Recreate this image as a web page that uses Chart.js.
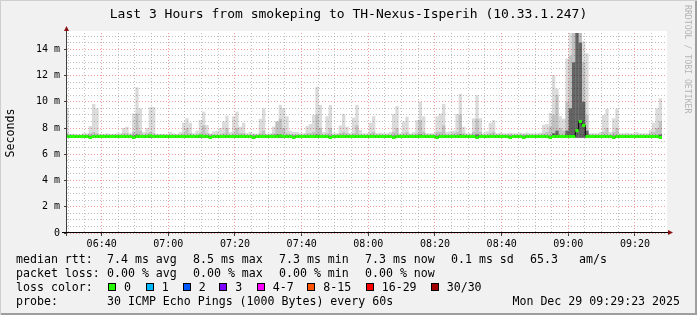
<!DOCTYPE html>
<html>
<head>
<meta charset="utf-8">
<title>smokeping TH-Nexus-Isperih</title>
<script src="https://cdn.jsdelivr.net/npm/chart.js@4.4.1/dist/chart.umd.min.js"></script>
<style>
  body { margin: 0; background: #fff; }
  #graph {
    position: relative; width: 697px; height: 315px; overflow: hidden;
    background: #f1f1f1;
    box-shadow: inset 1px 1px 0 #cfcfcf, inset -2px -2px 0 #9e9e9e;
    font-family: 'DejaVu Sans Mono', monospace; color: #000;
  }
  #graph canvas { position: absolute; left: 0; top: 0; }
  #title { position: absolute; left: 0; top: 6px; width: 697px; text-align: center;
           font-size: 13px; line-height: 15px; white-space: pre; }
  #mark { position: absolute; left: 683px; top: 5px; writing-mode: vertical-rl;
          font-size: 8.2px; color: #b4b4b4; white-space: pre; }
  .txt { position: absolute; white-space: pre; font-size: 11.6px; line-height: 14px; }
  .box { position: absolute; top: 283px; width: 8px; height: 8px;
         box-sizing: border-box; border: 1px solid #000; }
</style>
</head>
<body>
<div id="graph">
  <canvas id="chart" width="697" height="315"></canvas>
  <div id="title">Last 3 Hours from smokeping to TH-Nexus-Isperih (10.33.1.247)</div>
  <div id="mark">RRDTOOL / TOBI OETIKER</div>

  <div class="txt" style="left:16px;top:252px">median rtt:</div>
  <div class="txt" style="left:107px;top:252px">7.4 ms avg</div>
  <div class="txt" style="left:193px;top:252px">8.5 ms max</div>
  <div class="txt" style="left:279px;top:252px">7.3 ms min</div>
  <div class="txt" style="left:365px;top:252px">7.3 ms now</div>
  <div class="txt" style="left:451px;top:252px">0.1 ms sd</div>
  <div class="txt" style="left:530px;top:252px">65.3</div>
  <div class="txt" style="left:579px;top:252px">am/s</div>

  <div class="txt" style="left:16px;top:266px">packet loss:</div>
  <div class="txt" style="left:107px;top:266px">0.00 % avg</div>
  <div class="txt" style="left:193px;top:266px">0.00 % max</div>
  <div class="txt" style="left:279px;top:266px">0.00 % min</div>
  <div class="txt" style="left:365px;top:266px">0.00 % now</div>

  <div class="txt" style="left:16px;top:280px">loss color:</div>
  <div id="lossLegend"></div>

  <div class="txt" style="left:16px;top:294px">probe:</div>
  <div class="txt" style="left:107px;top:294px">30 ICMP Echo Pings (1000 Bytes) every 60s</div>
  <div class="txt" style="right:17px;top:294px">Mon Dec 29 09:29:23 2025</div>
</div>

<script>
// one sample per minute, first one at 06:29:36 (minutes since midnight)
const firstSample = 389.6;
const smokeFloor = 7.25;

// median rtt per minute (ms)
const median = [
  7.35, 7.35, 7.35, 7.35, 7.35, 7.35, 7.35, 7.27, 7.35, 7.35,
  7.35, 7.35, 7.35, 7.35, 7.35, 7.35, 7.35, 7.35, 7.35, 7.35,
  7.27, 7.35, 7.35, 7.35, 7.35, 7.4, 7.35, 7.35, 7.35, 7.35,
  7.35, 7.35, 7.35, 7.35, 7.35, 7.35, 7.35, 7.35, 7.35, 7.35,
  7.4, 7.35, 7.35, 7.27, 7.35, 7.35, 7.35, 7.35, 7.35, 7.35,
  7.35, 7.35, 7.35, 7.35, 7.35, 7.35, 7.27, 7.35, 7.35, 7.35,
  7.35, 7.35, 7.35, 7.35, 7.4, 7.35, 7.35, 7.35, 7.27, 7.35,
  7.35, 7.35, 7.35, 7.35, 7.35, 7.35, 7.35, 7.35, 7.35, 7.27,
  7.35, 7.35, 7.35, 7.35, 7.35, 7.35, 7.35, 7.35, 7.35, 7.35,
  7.35, 7.35, 7.35, 7.35, 7.35, 7.35, 7.35, 7.35, 7.27, 7.35,
  7.35, 7.35, 7.35, 7.35, 7.35, 7.35, 7.35, 7.35, 7.35, 7.35,
  7.35, 7.27, 7.35, 7.35, 7.35, 7.35, 7.35, 7.35, 7.35, 7.35,
  7.35, 7.35, 7.35, 7.27, 7.35, 7.35, 7.35, 7.35, 7.35, 7.35,
  7.35, 7.35, 7.35, 7.27, 7.35, 7.35, 7.35, 7.27, 7.35, 7.35,
  7.35, 7.35, 7.35, 7.35, 7.35, 7.27, 7.35, 7.35, 7.35, 7.35,
  7.35, 7.35, 7.35, 7.8, 8.5, 8.2, 7.35, 7.35, 7.35, 7.35,
  7.35, 7.35, 7.35, 7.35, 7.27, 7.35, 7.35, 7.35, 7.35, 7.35,
  7.35, 7.35, 7.35, 7.35, 7.35, 7.35, 7.35, 7.35, 7.28
];

// highest ping of each minute (light smoke)
const smokeTop = [
  9.5, 7.55, 7.55, 7.5, 7.5, 7.6, 7.6, 8.15, 9.83, 9.5,
  7.55, 7.55, 7.6, 7.55, 7.55, 7.6, 7.6, 8.0, 8.1, 7.6,
  9.1, 11.1, 9.5, 7.7, 8.0, 9.6, 9.6, 7.55, 7.55, 7.55,
  7.55, 7.7, 7.6, 7.55, 7.7, 8.4, 8.75, 8.4, 7.6, 7.8,
  8.6, 9.25, 8.23, 7.6, 7.75, 7.8, 8.0, 8.5, 8.94, 7.7,
  8.9, 9.25, 8.1, 8.4, 7.6, 7.7, 7.6, 7.55, 8.7, 9.5,
  7.55, 7.6, 8.1, 8.5, 9.76, 9.5, 8.9, 7.8, 7.7, 7.7,
  7.6, 7.6, 8.15, 8.3, 9.0, 11.15, 9.76, 7.7, 8.9, 9.76,
  7.6, 7.6, 8.2, 9.07, 8.1, 7.6, 8.8, 9.76, 7.85, 7.6,
  7.6, 8.4, 8.9, 7.6, 7.65, 7.6, 7.6, 7.7, 9.07, 9.68,
  7.6, 8.5, 8.87, 7.6, 7.7, 8.6, 10.0, 8.9, 7.6, 7.6,
  7.6, 8.9, 9.1, 9.83, 7.7, 7.75, 7.8, 9.07, 10.6, 8.1,
  7.6, 7.6, 8.74, 10.5, 8.74, 7.6, 7.75, 8.4, 8.6, 7.6,
  7.65, 7.6, 7.6, 7.65, 7.6, 7.6, 7.65, 7.6, 7.65, 7.6,
  7.6, 7.6, 7.65, 8.25, 8.3, 9.15, 12.04, 11.0, 8.9, 8.7,
  13.3, 15.3, 15.3, 15.3, 15.3, 14.6, 13.7, 7.6, 7.6, 7.6,
  7.7, 9.0, 9.45, 7.7, 8.74, 9.47, 7.6, 7.6, 7.65, 7.6,
  7.6, 7.7, 7.6, 7.6, 7.6, 7.85, 8.4, 9.5, 10.27
];

// upper group of pings (medium smoke)
const smokeUpper = [
  7.6, 7.5, 7.5, 7.5, 7.5, 7.5, 7.5, 7.6, 7.7, 7.6,
  7.5, 7.5, 7.5, 7.5, 7.5, 7.5, 7.5, 7.6, 7.6, 7.5,
  7.7, 9.1, 7.8, 7.5, 7.6, 7.7, 7.6, 7.5, 7.5, 7.5,
  7.5, 7.5, 7.5, 7.5, 7.5, 7.6, 8.0, 7.6, 7.5, 7.5,
  7.6, 8.2, 7.6, 7.5, 7.5, 7.5, 7.5, 7.6, 8.0, 7.5,
  7.6, 8.0, 7.6, 7.6, 7.5, 7.5, 7.5, 7.5, 7.6, 7.8,
  7.5, 7.5, 7.6, 8.5, 8.7, 8.0, 7.6, 7.5, 7.5, 7.5,
  7.5, 7.5, 7.6, 7.6, 7.7, 9.0, 8.0, 7.5, 7.6, 8.0,
  7.5, 7.5, 7.6, 7.7, 7.6, 7.5, 7.6, 8.2, 7.5, 7.5,
  7.5, 7.6, 7.7, 7.5, 7.5, 7.5, 7.5, 7.5, 7.7, 8.0,
  7.5, 7.6, 7.7, 7.5, 7.5, 7.6, 8.6, 7.7, 7.5, 7.5,
  7.5, 7.7, 7.7, 8.2, 7.5, 7.5, 7.6, 7.7, 9.0, 7.6,
  7.5, 7.5, 7.7, 8.7, 7.7, 7.5, 7.5, 7.6, 7.7, 7.5,
  7.5, 7.5, 7.5, 7.5, 7.5, 7.5, 7.5, 7.5, 7.5, 7.5,
  7.5, 7.5, 7.5, 7.6, 7.7, 8.1, 9.0, 10.5, 8.0, 7.8,
  10.0, 13.5, 15.3, 15.3, 15.3, 13.0, 9.0, 7.5, 7.5, 7.5,
  7.5, 7.7, 8.0, 7.5, 7.7, 8.0, 7.5, 7.5, 7.5, 7.5,
  7.5, 7.5, 7.5, 7.5, 7.5, 7.6, 7.7, 8.0, 8.5
];

// core of the ping distribution (dark smoke)
const smokeMid = [
  7.42, 7.42, 7.42, 7.42, 7.42, 7.42, 7.42, 7.42, 7.42, 7.42,
  7.42, 7.42, 7.42, 7.42, 7.42, 7.42, 7.42, 7.42, 7.42, 7.42,
  7.42, 7.5, 7.42, 7.42, 7.42, 7.42, 7.42, 7.42, 7.42, 7.42,
  7.42, 7.42, 7.42, 7.42, 7.42, 7.42, 7.42, 7.42, 7.42, 7.42,
  7.42, 7.42, 7.42, 7.42, 7.42, 7.42, 7.42, 7.42, 7.42, 7.42,
  7.42, 7.42, 7.42, 7.42, 7.42, 7.42, 7.42, 7.42, 7.42, 7.42,
  7.42, 7.42, 7.42, 7.5, 7.5, 7.42, 7.42, 7.42, 7.42, 7.42,
  7.42, 7.42, 7.42, 7.42, 7.42, 7.5, 7.42, 7.42, 7.42, 7.42,
  7.42, 7.42, 7.42, 7.42, 7.42, 7.42, 7.42, 7.42, 7.42, 7.42,
  7.42, 7.42, 7.42, 7.42, 7.42, 7.42, 7.42, 7.42, 7.42, 7.42,
  7.42, 7.42, 7.42, 7.42, 7.42, 7.42, 7.5, 7.42, 7.42, 7.42,
  7.42, 7.42, 7.42, 7.42, 7.42, 7.42, 7.42, 7.42, 7.5, 7.42,
  7.42, 7.42, 7.42, 7.5, 7.42, 7.42, 7.42, 7.42, 7.42, 7.42,
  7.42, 7.42, 7.42, 7.42, 7.42, 7.42, 7.42, 7.42, 7.42, 7.42,
  7.42, 7.42, 7.42, 7.42, 7.42, 7.42, 7.6, 7.8, 7.42, 7.42,
  7.8, 9.5, 13.0, 15.3, 14.5, 10.0, 7.8, 7.42, 7.42, 7.42,
  7.42, 7.42, 7.42, 7.42, 7.42, 7.42, 7.42, 7.42, 7.42, 7.42,
  7.42, 7.42, 7.42, 7.42, 7.42, 7.42, 7.42, 7.42, 7.5
];

const yLabelTicks = [0, 2, 4, 6, 8, 10, 12, 14];
const xLabelTimes = ['06:40', '07:00', '07:20', '07:40', '08:00', '08:20', '08:40', '09:00', '09:20'];
const lossLabels = ['0', '1', '2', '3', '4-7', '8-15', '16-29', '30/30'];
const lossColors = ['#26ff00', '#00b8ff', '#0059ff', '#7e00ff', '#ff00fe', '#ff5500', '#ff0000', '#a10000'];

// loss colour legend boxes
const boxLeft = [108, 145.7, 182.7, 219.3, 256.7, 307.3, 365.7, 430.7];
const lossLegend = document.getElementById('lossLegend');
lossLabels.forEach((lbl, i) => {
    const box = document.createElement('div');
    box.className = 'box';
    box.style.left = boxLeft[i] + 'px';
    box.style.background = lossColors[i];
    lossLegend.appendChild(box);
    const t = document.createElement('div');
    t.className = 'txt';
    t.style.left = (boxLeft[i] + 16) + 'px';
    t.style.top = '280px';
    t.textContent = lbl;
    lossLegend.appendChild(t);
});

const toMinute = s => parseInt(s.slice(0, 2)) * 60 + parseInt(s.slice(3));
const labelAt = {};
xLabelTimes.forEach(s => { labelAt[toMinute(s)] = s; });

const xs = median.map((_, i) => firstSample + i);
const smokeBars = tops => tops.map((v, i) => ({ x: xs[i], y: [smokeFloor, v] }));

const MAJOR = 'rgba(230, 90, 90, 0.6)';
const MINOR = 'rgba(140, 140, 140, 0.55)';
const FONT = 'DejaVu Sans Mono';

const rrdFrame = {
    id: 'rrdFrame',
    beforeDraw(chart) {
        const { ctx, chartArea: a } = chart;
        ctx.save();
        ctx.fillStyle = '#ffffff';
        ctx.fillRect(a.left, a.top - 2, a.right - a.left, a.bottom - a.top + 2);
        ctx.restore();
    },
    afterDraw(chart) {
        const { ctx, chartArea: a } = chart;
        ctx.save();
        ctx.lineWidth = 1;
        ctx.strokeStyle = '#404040';
        ctx.beginPath();
        ctx.moveTo(a.left - 0.5, a.bottom + 3);
        ctx.lineTo(a.left - 0.5, a.top - 4);
        ctx.stroke();
        ctx.strokeStyle = '#000';
        ctx.beginPath();
        ctx.moveTo(a.left - 5, a.bottom - 0.5);
        ctx.lineTo(a.right + 2, a.bottom - 0.5);
        ctx.stroke();
        ctx.fillStyle = '#8b1212';
        ctx.beginPath();
        ctx.moveTo(a.left - 0.5, a.top - 7);
        ctx.lineTo(a.left - 3, a.top - 2);
        ctx.lineTo(a.left + 2, a.top - 2);
        ctx.closePath();
        ctx.fill();
        ctx.beginPath();
        ctx.moveTo(a.right + 6, a.bottom - 0.5);
        ctx.lineTo(a.right + 1, a.bottom - 3);
        ctx.lineTo(a.right + 1, a.bottom + 2);
        ctx.closePath();
        ctx.fill();
        ctx.restore();
    }
};

const barCommon = {
    type: 'bar', grouped: false, barPercentage: 1, categoryPercentage: 1,
    borderWidth: 0, inflateAmount: 0, clip: 0
};

new Chart(document.getElementById('chart'), {
    type: 'bar',
    data: {
        datasets: [
            {
                ...barCommon,
                label: 'median rtt',
                data: median.map((m, i) => ({ x: xs[i], y: [m - 0.115, m + 0.115] })),
                backgroundColor: lossColors[0],
                order: 0
            },
            {
                type: 'line',
                label: 'median step',
                data: median.map((m, i) => ({ x: xs[i], y: m })),
                borderColor: '#000',
                borderWidth: 1,
                stepped: 'middle',
                pointRadius: 0,
                clip: 0,
                order: 1
            },
            { ...barCommon, label: 'smoke core', data: smokeBars(smokeMid), backgroundColor: 'rgba(0,0,0,0.48)', order: 2 },
            { ...barCommon, label: 'smoke upper', data: smokeBars(smokeUpper), backgroundColor: 'rgba(0,0,0,0.12)', order: 3 },
            { ...barCommon, label: 'smoke top', data: smokeBars(smokeTop), backgroundColor: 'rgba(0,0,0,0.14)', order: 4 }
        ]
    },
    options: {
        responsive: false,
        animation: false,
        events: [],
        layout: { padding: { top: 33, right: 30, left: 0, bottom: 0 } },
        plugins: {
            legend: { display: false },
            tooltip: { enabled: false },
            title: { display: false }
        },
        scales: {
            x: {
                type: 'linear',
                offset: false,
                min: firstSample,
                max: firstSample + 180,
                afterBuildTicks: axis => {
                    const ticks = [];
                    for (let m = 390; m <= 565; m += 5) ticks.push({ value: m });
                    axis.ticks = ticks;
                },
                afterFit: axis => { axis.height = 82; },
                ticks: {
                    autoSkip: false,
                    maxRotation: 0,
                    padding: 2,
                    color: '#000',
                    font: { family: FONT, size: 10 },
                    callback: v => labelAt[v] || ''
                },
                grid: {
                    offset: false,
                    color: ctx => (ctx.tick && ctx.tick.value % 20 === 0) ? MAJOR : MINOR,
                    tickColor: ctx => (ctx.tick && ctx.tick.value % 20 === 0) ? '#404040' : 'rgba(0,0,0,0)',
                    tickLength: 3,
                    lineWidth: 1
                },
                border: { display: false, dash: [1, 2] }
            },
            y: {
                min: 0,
                max: 15.24,
                afterBuildTicks: axis => {
                    const ticks = [];
                    for (let v = 0; v <= 15; v += 0.5) ticks.push({ value: v });
                    axis.ticks = ticks;
                },
                afterFit: axis => { axis.width = 67; },
                ticks: {
                    autoSkip: false,
                    padding: 4,
                    color: '#000',
                    font: { family: FONT, size: 10 },
                    callback: v => yLabelTicks.includes(v) ? (v === 0 ? '0' : v + ' m') : ''
                },
                grid: {
                    color: ctx => (ctx.tick && ctx.tick.value % 2 === 0) ? MAJOR : MINOR,
                    tickColor: ctx => (ctx.tick && ctx.tick.value % 2 === 0) ? '#404040' : 'rgba(0,0,0,0)',
                    tickLength: 3,
                    lineWidth: 1
                },
                border: { display: false, dash: [1, 2] },
                title: {
                    display: true,
                    text: 'Seconds',
                    color: '#000',
                    font: { family: FONT, size: 11.6 },
                    padding: { top: 4, bottom: 0 }
                }
            }
        }
    },
    plugins: [rrdFrame]
});
</script>
</body>
</html>
